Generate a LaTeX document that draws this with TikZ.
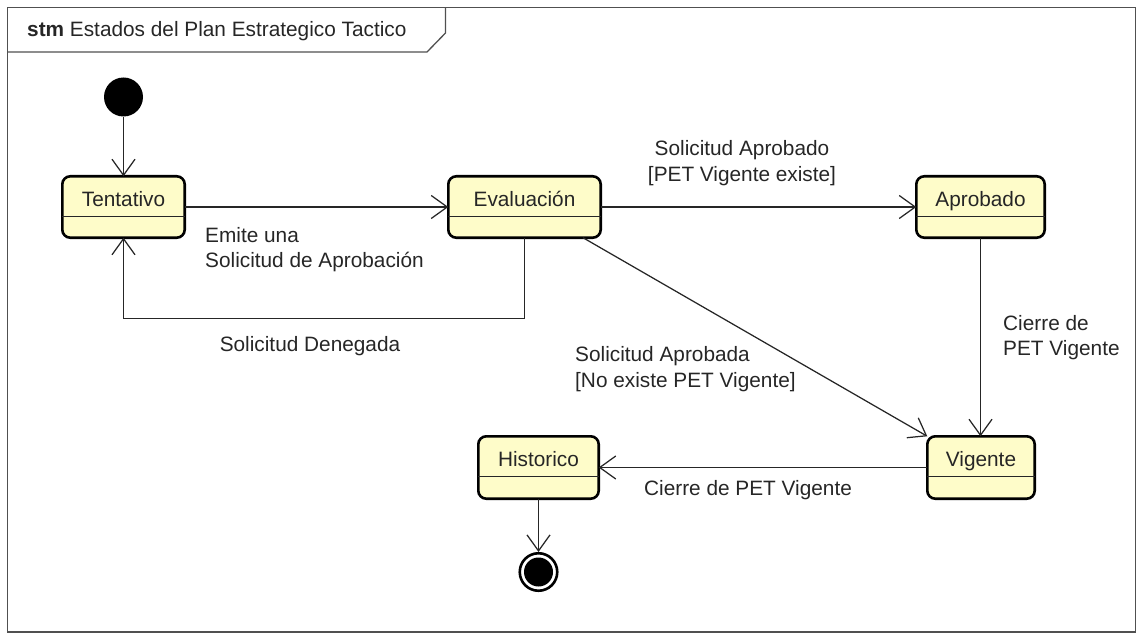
\documentclass[tikz,border=0pt]{standalone}
\usepackage{fontspec}
\setmainfont{Liberation Sans}
\usetikzlibrary{arrows.meta,calc}
\definecolor{statefill}{HTML}{FEFCC9}
\definecolor{ink}{HTML}{262626}
\definecolor{framegray}{HTML}{505050}
\begin{document}
\begin{tikzpicture}[x=1pt,y=-1pt,
  every node/.style={font=\fontsize{20.8}{25.5}\selectfont, text=ink, inner sep=0pt},
  statebox/.style={draw=black, line width=2.6pt, fill=statefill, rounded corners=8pt, outer sep=0pt},
  statename/.style={anchor=base},
  divider/.style={draw=black!85, line width=1pt},
  trans/.style={draw=ink, line width=1.25pt, -{Straight Barb[length=16pt,width=23pt,line width=1.25pt]}},
  translabel/.style={align=left},
  framestyle/.style={draw=framegray, line width=1.3pt}
]
\useasboundingbox (0,0) rectangle (1143,639);

% diagram frame and its name tab
\draw[framestyle] (7.5,7.5) rectangle (1135.5,632);
\draw[framestyle] (7.5,52) -- (427,52) -- (445.5,33) -- (445.5,7.5);
\node[anchor=base west] (title) at (27,37) {\textbf{stm} Estados del Plan Estrategico Tactico};

% pseudo states
\node[circle, fill=black, minimum size=39pt] (init) at (123.5,97) {};
\node[circle, draw=black, line width=2.6pt, fill=white, minimum size=37.5pt] (final) at (538.5,572) {};
\node[circle, fill=black, minimum size=29pt] (finaldot) at (final.center) {};

% states
\node[statebox, minimum width=122.4pt, minimum height=61.4pt] (tent) at (123.5,207) {};
\node[statebox, minimum width=152.4pt, minimum height=61.4pt] (eval) at (524.5,207) {};
\node[statebox, minimum width=128.4pt, minimum height=61.4pt] (apro) at (980.5,207) {};
\node[statebox, minimum width=120.4pt, minimum height=62.4pt] (hist) at (538.5,467.5) {};
\node[statebox, minimum width=107.4pt, minimum height=62.4pt] (vig) at (981,467.5) {};

\foreach \s/\t in {tent/Tentativo, eval/Evaluación, apro/Aprobado, hist/Historico, vig/Vigente}{
  \node[statename] (\s-name) at ([yshift=-30.5pt]\s.north) {\t};
  \draw[divider] ([yshift=-40pt]\s.north west) -- ([yshift=-40pt]\s.north east);
}

% transitions
\draw[trans] (init) -- (tent.north);
\draw[trans] (tent.east) -- (eval.west);
\draw[trans] (eval.south) -- ++(0,81) -| (tent.south);
\draw[trans] (eval.east) -- (apro.west);
\draw[trans] ([xshift=58.5pt]eval.south) -- (vig.north west);
\draw[trans] (apro.south) -- (apro.south |- vig.north);
\draw[trans] (vig.west) -- (vig.west -| hist.east);
\draw[trans] (hist.south) -- (final.north);

% transition labels
\node[translabel, anchor=west] (l-emite) at (205,249.5) {Emite una\\Solicitud de Aprobación};
\node[anchor=center] (l-deneg) at (310,346.5) {Solicitud Denegada};
\node[align=center, anchor=center] (l-aprob) at (742,163) {Solicitud Aprobado\\{[PET Vigente existe]}};
\node[translabel, anchor=west] (l-noex) at (575,369) {Solicitud Aprobada\\{[No existe PET Vigente]}};
\node[translabel, anchor=west] (l-cierre) at (1003,337.5) {Cierre de\\PET Vigente};
\node[anchor=center] (l-cierre2) at (748,490) {Cierre de PET Vigente};
\end{tikzpicture}
\end{document}
